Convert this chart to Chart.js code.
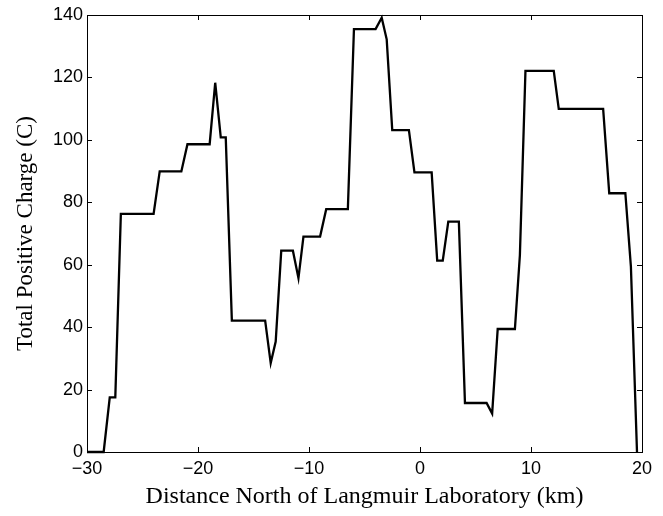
<!DOCTYPE html>
<html>
<head>
<meta charset="utf-8">
<script src="https://cdn.jsdelivr.net/npm/chart.js"></script>
<style>
  html, body { margin: 0; padding: 0; background: #fff; }
  #wrap { width: 663px; height: 516px; }
</style>
</head>
<body>
<div id="wrap"><canvas id="chart_charge"></canvas></div>
<script>
// distance (km) and total positive charge (C)
const distanceKm = [-30, -28.5, -27.95, -27.45, -26.95, -24, -23.45, -21.5, -20.95, -18.95,
  -18.45, -17.95, -17.5, -16.95, -13.95, -13.45, -13, -12.5, -11.45, -10.95,
  -10.5, -9, -8.45, -6.5, -5.95, -4, -3.45, -3, -2.5, -1,
  -0.5, 1.05, 1.55, 2.05, 2.55, 3.5, 4.05, 6, 6.5, 7,
  8.55, 9, 9.5, 12.05, 12.5, 16.5, 17.05, 18.5, 19, 19.55];
const chargeC = [0, 0, 17.5, 17.5, 76.3, 76.3, 89.9, 89.9, 98.6, 98.6,
  118.3, 100.8, 100.8, 42.1, 42.1, 28.5, 35.4, 64.5, 64.5, 55.7,
  69, 69, 77.8, 77.8, 135.5, 135.5, 139.1, 132.2, 103.1, 103.1,
  89.6, 89.6, 61.3, 61.3, 73.8, 73.8, 15.7, 15.7, 12.3, 39.4,
  39.4, 63.1, 122.1, 122.1, 109.9, 109.9, 82.9, 82.9, 59.4, 0];
const xTicks = [-30, -20, -10, 0, 10, 20];
const yTicks = [0, 20, 40, 60, 80, 100, 120, 140];

const points = distanceKm.map((x, i) => ({ x: x, y: chargeC[i] }));

// MATLAB-style box with inward ticks on all four sides
const boxTicks = {
  id: 'boxTicks',
  afterDraw(chart) {
    const ctx = chart.ctx;
    const a = chart.chartArea;
    const sx = chart.scales.x, sy = chart.scales.y;
    const len = 5;
    ctx.save();
    ctx.strokeStyle = '#000';
    ctx.lineWidth = 1;
    ctx.beginPath();
    xTicks.forEach(v => {
      const px = Math.round(sx.getPixelForValue(v)) + 0.5;
      ctx.moveTo(px, a.bottom); ctx.lineTo(px, a.bottom - len);
      ctx.moveTo(px, a.top); ctx.lineTo(px, a.top + len);
    });
    yTicks.forEach(v => {
      const py = Math.round(sy.getPixelForValue(v)) + 0.5;
      ctx.moveTo(a.left, py); ctx.lineTo(a.left + len, py);
      ctx.moveTo(a.right, py); ctx.lineTo(a.right - len, py);
    });
    ctx.stroke();
    ctx.strokeRect(a.left + 0.5, a.top + 0.5, a.right - a.left, a.bottom - a.top);
    ctx.restore();
  }
};

new Chart("chart_charge", {
  type: 'line',
  data: {
    datasets: [{
      label: 'charge',
      data: points,
      borderColor: '#000',
      borderWidth: 2.3,
      pointRadius: 0,
      tension: 0,
      fill: false,
      clip: 3
    }]
  },
  options: {
    responsive: true,
    maintainAspectRatio: false,
    animation: false,
    layout: { padding: { left: 0, top: 15, right: 21, bottom: 0 } },
    plugins: {
      legend: { display: false },
      tooltip: { enabled: false }
    },
    scales: {
      x: {
        type: 'linear',
        min: -30,
        max: 20,
        afterBuildTicks: s => { s.ticks = xTicks.map(v => ({ value: v })); },
        afterFit: s => { s.height = 64; },
        grid: { display: false, drawTicks: false },
        border: { display: false },
        ticks: {
          color: '#000',
          padding: 6,
          maxRotation: 0,
          font: { family: 'Liberation Sans, Arial, sans-serif', size: 18 },
          callback: v => String(v).replace('-', '\u2212')
        },
        title: {
          display: true,
          text: 'Distance North of Langmuir Laboratory (km)',
          color: '#000',
          padding: { top: 0, bottom: 5 },
          font: { family: 'Liberation Serif, Times New Roman, serif', size: 24 }
        }
      },
      y: {
        min: 0,
        max: 140,
        afterBuildTicks: s => { s.ticks = yTicks.map(v => ({ value: v })); },
        afterFit: s => { s.width = 87; },
        grid: { display: false, drawTicks: false },
        border: { display: false },
        ticks: {
          color: '#000',
          padding: 4,
          font: { family: 'Liberation Sans, Arial, sans-serif', size: 18 }
        },
        title: {
          display: true,
          text: 'Total Positive Charge (C)',
          color: '#000',
          padding: { top: 12, bottom: 0 },
          font: { family: 'Liberation Serif, Times New Roman, serif', size: 23 }
        }
      }
    }
  },
  plugins: [boxTicks]
});
</script>
</body>
</html>
